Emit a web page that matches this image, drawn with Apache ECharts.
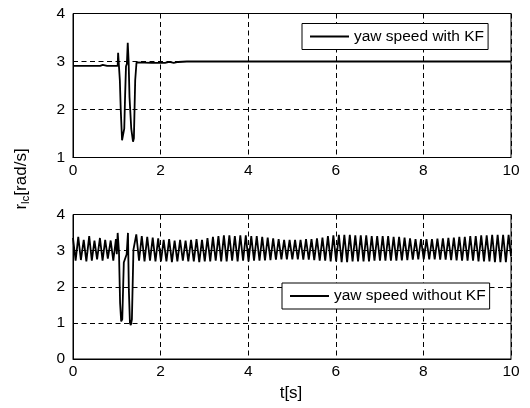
<!DOCTYPE html>
<html>
<head>
<meta charset="utf-8">
<script src="https://cdn.jsdelivr.net/npm/echarts@6/dist/echarts.min.js"></script>
<style>
  html, body { margin: 0; padding: 0; background: #fff; }
  #chart { width: 530px; height: 408px; }
</style>
</head>
<body>
<div id="chart"></div>
<script>
// Yaw speed of the vehicle, with and without the Kalman filter.
const seriesNames = ['yaw speed with KF', 'yaw speed without KF'];

const xTicks = [0, 2, 4, 6, 8, 10];
const yTicksTop = [1, 2, 3, 4];
const yTicksBottom = [0, 1, 2, 3, 4];

// Filtered yaw speed
const timeKF = [
  0.00, 0.30, 0.62, 0.68, 0.72, 0.78, 1.02, 1.03, 1.05, 1.07, 1.09, 1.12,
  1.15, 1.17, 1.19, 1.21, 1.23, 1.25, 1.27, 1.29, 1.33, 1.37, 1.39, 1.42,
  1.45, 1.47, 1.80, 2.10, 2.20, 2.30, 2.40, 2.60, 3.00, 10.00
];
const yawKF = [
  2.91, 2.91, 2.91, 2.93, 2.92, 2.91, 2.91, 3.18, 3.15, 2.60, 2.00, 1.36,
  1.36, 1.60, 2.30, 2.90, 2.95, 3.39, 3.00, 2.26, 1.60, 1.33, 1.40, 2.61,
  2.98, 2.97, 2.97, 2.97, 2.99, 2.97, 2.99, 3.00, 3.00, 3.00
];

// Unfiltered yaw speed
const timeNoKF = [
  0.000, 0.060, 0.120, 0.180, 0.245, 0.305, 0.370, 0.430, 0.490, 0.550,
  0.615, 0.675, 0.735, 0.795, 0.860, 0.920, 0.980, 1.000, 1.020, 1.050,
  1.075, 1.100, 1.125, 1.160, 1.200, 1.225, 1.255, 1.275, 1.300, 1.320,
  1.345, 1.380, 1.445,
  1.508, 1.570, 1.633, 1.695, 1.758, 1.820, 1.883, 1.945, 2.008,
  2.070, 2.133, 2.195, 2.258, 2.320, 2.383, 2.445, 2.508, 2.570, 2.633, 2.695, 2.758, 2.820, 2.883, 2.945, 3.008,
  3.070, 3.133, 3.195, 3.258, 3.320, 3.383, 3.445, 3.508, 3.570, 3.633, 3.695, 3.758, 3.820, 3.883, 3.945, 4.008,
  4.070, 4.133, 4.195, 4.258, 4.320, 4.383, 4.445, 4.508, 4.570, 4.633, 4.695, 4.758, 4.820, 4.883, 4.945, 5.008,
  5.070, 5.133, 5.195, 5.258, 5.320, 5.383, 5.445, 5.508, 5.570, 5.633, 5.695, 5.758, 5.820, 5.883, 5.945, 6.008,
  6.070, 6.133, 6.195, 6.258, 6.320, 6.383, 6.445, 6.508, 6.570, 6.633, 6.695, 6.758, 6.820, 6.883, 6.945, 7.008,
  7.070, 7.133, 7.195, 7.258, 7.320, 7.383, 7.445, 7.508, 7.570, 7.633, 7.695, 7.758, 7.820, 7.883, 7.945, 8.008,
  8.070, 8.133, 8.195, 8.258, 8.320, 8.383, 8.445, 8.508, 8.570, 8.633, 8.695, 8.758, 8.820, 8.883, 8.945, 9.008,
  9.070, 9.133, 9.195, 9.258, 9.320, 9.383, 9.445, 9.508, 9.570, 9.633, 9.695, 9.758, 9.820, 9.883, 9.945, 10.000
];
const yawNoKF = [
  3.35, 2.72, 3.38, 2.74, 3.30, 2.70, 3.40, 2.72, 3.28, 2.76,
  3.35, 2.72, 3.30, 2.78, 3.28, 2.72, 3.32, 2.90, 3.49, 2.95,
  1.55, 1.04, 1.10, 2.67, 2.70, 2.90, 3.49, 1.92, 1.00, 0.94,
  1.10, 3.03, 3.45,
  2.72, 3.40, 2.70, 3.38, 2.72, 3.36, 2.70, 3.34, 2.70,
  3.30, 2.70, 3.32, 2.68, 3.28, 2.70, 3.30, 2.72, 3.28, 2.70, 3.30, 2.70, 3.32, 2.68, 3.30, 2.70,
  3.35, 2.70, 3.38, 2.72, 3.40, 2.70, 3.42, 2.70, 3.42, 2.72, 3.40, 2.70, 3.42, 2.72, 3.42, 2.70,
  3.40, 2.72, 3.40, 2.72, 3.38, 2.73, 3.36, 2.74, 3.34, 2.75, 3.32, 2.76, 3.30, 2.76, 3.30, 2.76,
  3.30, 2.76, 3.30, 2.75, 3.32, 2.75, 3.32, 2.74, 3.34, 2.72, 3.36, 2.72, 3.40, 2.70, 3.42, 2.70,
  3.44, 2.68, 3.44, 2.68, 3.44, 2.70, 3.42, 2.70, 3.42, 2.70, 3.42, 2.70, 3.40, 2.72, 3.40, 2.72,
  3.40, 2.72, 3.40, 2.72, 3.38, 2.72, 3.38, 2.73, 3.36, 2.74, 3.34, 2.75, 3.32, 2.76, 3.32, 2.76,
  3.32, 2.76, 3.32, 2.76, 3.33, 2.75, 3.34, 2.75, 3.35, 2.74, 3.36, 2.73, 3.38, 2.72, 3.38, 2.72,
  3.40, 2.72, 3.40, 2.70, 3.42, 2.70, 3.42, 2.70, 3.44, 2.68, 3.44, 2.68, 3.44, 2.68, 3.44, 2.85
];

const FONT = '"Liberation Sans", Arial, Helvetica, sans-serif';
const zip = (xs, ys) => xs.map((x, i) => [x, ys[i]]);

const gridDash = { color: '#000', width: 1, type: [5, 3.5] };

function xAxisFor(gridIndex) {
  return {
    type: 'value', gridIndex,
    min: xTicks[0], max: xTicks[xTicks.length - 1], interval: 2,
    axisLine: { show: true, onZero: false, lineStyle: { color: '#000', width: 1 } },
    axisTick: { show: false },
    axisLabel: { color: '#000', fontFamily: FONT, fontSize: 15.5, margin: 5 },
    splitLine: { show: true, lineStyle: gridDash }
  };
}
function yAxisFor(gridIndex, ticks) {
  return {
    type: 'value', gridIndex,
    min: ticks[0], max: ticks[ticks.length - 1], interval: 1,
    axisLine: { show: true, onZero: false, lineStyle: { color: '#000', width: 1 } },
    axisTick: { show: false },
    axisLabel: { color: '#000', fontFamily: FONT, fontSize: 15.5, margin: 8 },
    splitLine: { show: true, lineStyle: gridDash }
  };
}

function legendFor(name, left, top) {
  return {
    data: [name],
    left, top,
    orient: 'horizontal',
    icon: 'rect',
    itemWidth: 39, itemHeight: 2,
    itemStyle: { color: '#000' },
    padding: [5, 4, 5, 8],
    backgroundColor: '#fff',
    borderColor: '#000', borderWidth: 1, borderRadius: 0,
    selectedMode: false,
    textStyle: { color: '#000', fontFamily: FONT, fontSize: 15.5 }
  };
}

const chart = echarts.init(document.getElementById('chart'), null, { renderer: 'canvas' });
chart.setOption({
  animation: false,
  backgroundColor: '#fff',
  grid: [
    { left: 73, right: 19, top: 13.5, height: 144, show: true, borderColor: '#000', borderWidth: 1, backgroundColor: 'transparent' },
    { left: 73, right: 19, top: 214.5, height: 144.5, show: true, borderColor: '#000', borderWidth: 1, backgroundColor: 'transparent' }
  ],
  xAxis: [xAxisFor(0), xAxisFor(1)],
  yAxis: [yAxisFor(0, yTicksTop), yAxisFor(1, yTicksBottom)],
  legend: [
    legendFor(seriesNames[0], 302, 23.5),
    legendFor(seriesNames[1], 282, 283)
  ],
  series: [
    {
      name: seriesNames[0], type: 'line', xAxisIndex: 0, yAxisIndex: 0,
      data: zip(timeKF, yawKF), showSymbol: false, smooth: false,
      lineStyle: { color: '#000', width: 1.8 }, itemStyle: { color: '#000' }
    },
    {
      name: seriesNames[1], type: 'line', xAxisIndex: 1, yAxisIndex: 1,
      data: zip(timeNoKF, yawNoKF), showSymbol: false, smooth: false,
      lineStyle: { color: '#000', width: 1.8 }, itemStyle: { color: '#000' }
    }
  ],
  graphic: [
    {
      // shared y-axis name, reading bottom to top
      type: 'text',
      x: 21, y: 179,
      rotation: Math.PI / 2,
      style: {
        text: '{r|r}{sub|lc}{r|[rad/s]}',
        align: 'center', verticalAlign: 'middle',
        rich: {
          r: { fontFamily: FONT, fontSize: 17, fill: '#000' },
          sub: { fontFamily: FONT, fontSize: 11.5, fill: '#000', padding: [9, 0, 0, 0] }
        }
      }
    },
    {
      type: 'text',
      x: 291, y: 393,
      style: {
        text: 't[s]',
        align: 'center', verticalAlign: 'middle',
        font: '17px ' + FONT, fill: '#000'
      }
    }
  ]
});
</script>
</body>
</html>
